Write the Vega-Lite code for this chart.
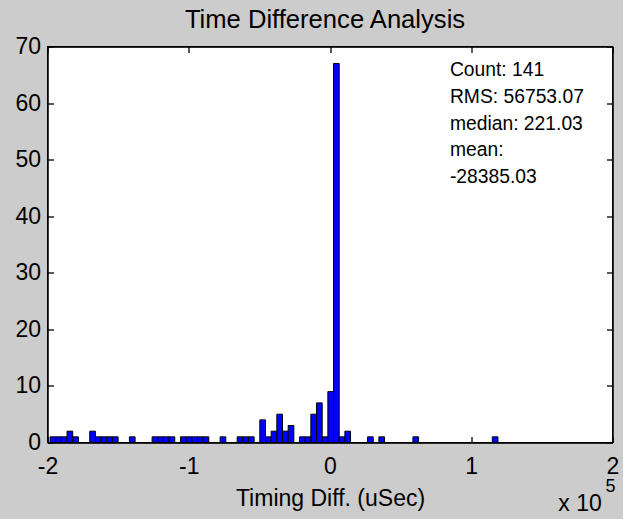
{
  "$schema": "https://vega.github.io/schema/vega-lite/v6.json",
  "width": 565,
  "height": 396,
  "autosize": "none",
  "padding": {"left": 47.5, "top": 46.5, "right": 10.5, "bottom": 76.5},
  "background": "#cccccc",
  "title": {"text": "Time Difference Analysis", "font": "Liberation Sans", "fontSize": 25.6, "fontWeight": "normal", "color": "black", "frame": "group", "offset": 2, "dx": -5},
  "config": {
    "view": {"stroke": "black", "strokeWidth": 1.3, "fill": "white"},
    "axis": {
      "grid": false,
      "labelFont": "Liberation Sans", "labelFontSize": 23, "labelColor": "black",
      "titleFont": "Liberation Sans", "titleFontSize": 23, "titleFontWeight": "normal", "titleColor": "black",
      "domainColor": "black", "domainWidth": 1.3, "tickColor": "black", "tickWidth": 1.3, "tickSize": -6
    }
  },
  "datasets": {
    "hist": [
      {"start": -198200, "end": -194186, "count": 1},
      {"start": -194186, "end": -190172, "count": 1},
      {"start": -190172, "end": -186158, "count": 1},
      {"start": -186158, "end": -182144, "count": 2},
      {"start": -182144, "end": -178130, "count": 1},
      {"start": -170102, "end": -166088, "count": 2},
      {"start": -166088, "end": -162074, "count": 1},
      {"start": -162074, "end": -158060, "count": 1},
      {"start": -158060, "end": -154046, "count": 1},
      {"start": -154046, "end": -150032, "count": 1},
      {"start": -142004, "end": -137990, "count": 1},
      {"start": -125948, "end": -121934, "count": 1},
      {"start": -121934, "end": -117920, "count": 1},
      {"start": -117920, "end": -113906, "count": 1},
      {"start": -113906, "end": -109892, "count": 1},
      {"start": -105878, "end": -101864, "count": 1},
      {"start": -101864, "end": -97850, "count": 1},
      {"start": -97850, "end": -93836, "count": 1},
      {"start": -93836, "end": -89822, "count": 1},
      {"start": -89822, "end": -85808, "count": 1},
      {"start": -77780, "end": -73766, "count": 1},
      {"start": -65738, "end": -61724, "count": 1},
      {"start": -61724, "end": -57710, "count": 1},
      {"start": -57710, "end": -53696, "count": 1},
      {"start": -49682, "end": -45668, "count": 4},
      {"start": -45668, "end": -41654, "count": 1},
      {"start": -41654, "end": -37640, "count": 2},
      {"start": -37640, "end": -33626, "count": 5},
      {"start": -33626, "end": -29612, "count": 2},
      {"start": -29612, "end": -25598, "count": 3},
      {"start": -21584, "end": -17570, "count": 1},
      {"start": -17570, "end": -13556, "count": 1},
      {"start": -13556, "end": -9542, "count": 5},
      {"start": -9542, "end": -5528, "count": 7},
      {"start": -5528, "end": -1514, "count": 1},
      {"start": -1514, "end": 2500, "count": 9},
      {"start": 2500, "end": 6514, "count": 67},
      {"start": 6514, "end": 10528, "count": 1},
      {"start": 10528, "end": 14542, "count": 2},
      {"start": 26584, "end": 30598, "count": 1},
      {"start": 34612, "end": 38626, "count": 1},
      {"start": 58696, "end": 62710, "count": 1},
      {"start": 114892, "end": 118906, "count": 1}
    ]
  },
  "layer": [
    {
      "data": {"name": "hist"},
      "mark": {"type": "bar", "fill": "#0000ff", "stroke": "black", "strokeWidth": 1},
      "encoding": {
        "x": {
          "field": "start", "type": "quantitative",
          "scale": {"domain": [-200000, 200000], "nice": false, "zero": false},
          "axis": {
            "orient": "bottom", "values": [-200000, -100000, 0, 100000, 200000],
            "labelExpr": "datum.value / 100000", "labelPadding": 19, "labelFlush": false,
            "title": "Timing Diff. (uSec)", "titlePadding": 9
          }
        },
        "x2": {"field": "end"},
        "y": {
          "field": "count", "type": "quantitative",
          "scale": {"domain": [0, 70], "nice": false},
          "axis": {"orient": "left", "values": [0, 10, 20, 30, 40, 50, 60, 70], "labelPadding": 13, "labelFlush": false, "title": null}
        },
        "y2": {"datum": 0}
      }
    },
    {
      "data": {"name": "hist"},
      "mark": {"type": "point", "opacity": 0},
      "encoding": {
        "x": {
          "field": "start", "type": "quantitative",
          "axis": {"orient": "top", "values": [-200000, -100000, 0, 100000, 200000], "labels": false, "title": null}
        },
        "y": {
          "field": "count", "type": "quantitative",
          "axis": {"orient": "right", "values": [0, 10, 20, 30, 40, 50, 60, 70], "labels": false, "title": null}
        }
      }
    },
    {
      "data": {"values": [{}]},
      "mark": {"type": "text", "align": "left", "baseline": "top", "font": "Liberation Sans", "fontSize": 19.3, "lineHeight": 26.7, "color": "black"},
      "encoding": {
        "x": {"datum": 84900, "type": "quantitative", "axis": null},
        "y": {"datum": 67.4, "type": "quantitative", "axis": null},
        "text": {"value": ["Count: 141", "RMS: 56753.07", "median: 221.03", "mean:", "-28385.03"]}
      }
    },
    {
      "data": {"values": [{}]},
      "mark": {"type": "text", "align": "center", "baseline": "middle", "font": "Liberation Sans", "fontSize": 23, "color": "black", "clip": false},
      "encoding": {
        "x": {"datum": 177000, "type": "quantitative", "axis": null},
        "y": {"datum": -10.9, "type": "quantitative", "axis": null},
        "text": {"value": "x 10"}
      }
    },
    {
      "data": {"values": [{}]},
      "mark": {"type": "text", "align": "center", "baseline": "middle", "font": "Liberation Sans", "fontSize": 18, "color": "black", "clip": false},
      "encoding": {
        "x": {"datum": 198600, "type": "quantitative", "axis": null},
        "y": {"datum": -7.9, "type": "quantitative", "axis": null},
        "text": {"value": "5"}
      }
    }
  ],
  "resolve": {"axis": {"x": "independent", "y": "independent"}}
}
